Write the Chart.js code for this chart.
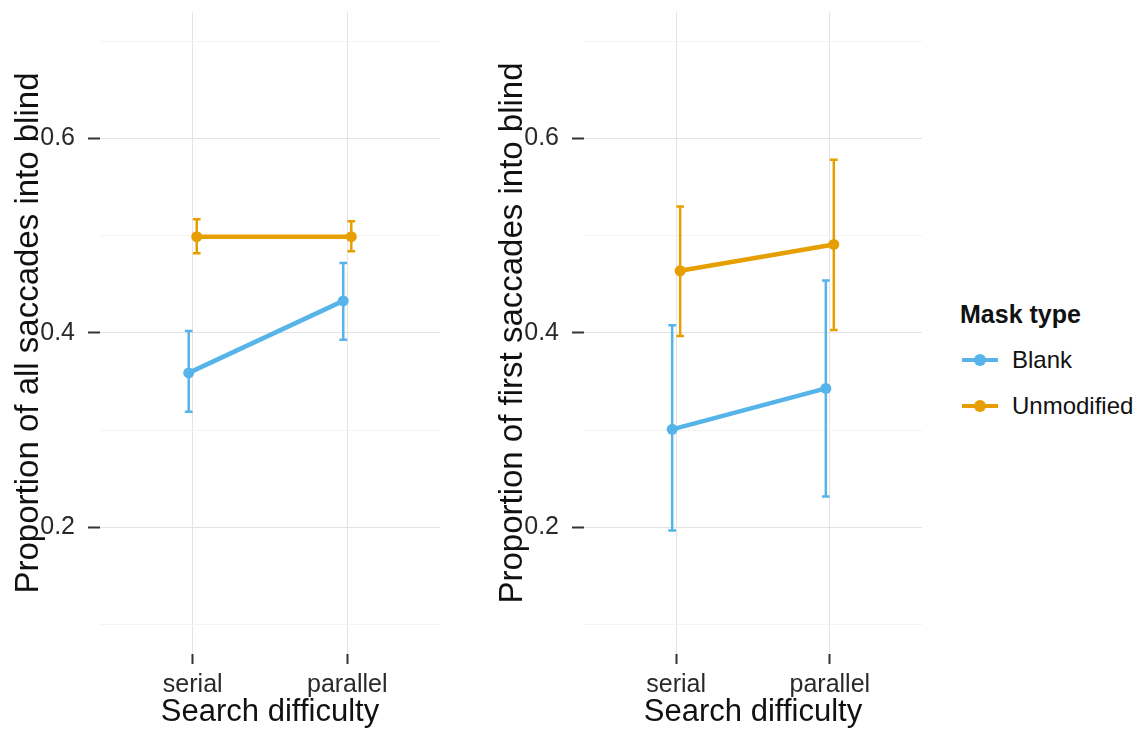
<!DOCTYPE html>
<html>
<head>
<meta charset="utf-8">
<script src="https://cdn.jsdelivr.net/npm/chart.js@4.4.1/dist/chart.umd.min.js"></script>
<style>
  body { margin: 0; background: #fff; }
  #wrap { position: relative; width: 1138px; height: 730px; overflow: hidden; font-family: "Liberation Sans", Arial, sans-serif; }
  canvas { position: absolute; top: 0; }
  #left { left: 0; }
  #right { left: 484px; }
  #legend { position: absolute; left: 960px; top: 300px; color: #111; }
  #legend .title { font-weight: bold; font-size: 25px; margin-bottom: 8px; }
  #legend .item { display: flex; align-items: center; height: 46px; font-size: 24px; }
  #legend .sym { position: relative; width: 40px; height: 20px; margin-right: 12px; }
  #legend .sym .ln { position: absolute; left: 2px; right: 2px; top: 8px; height: 4px; }
  #legend .sym .pt { position: absolute; left: 14px; top: 4px; width: 12px; height: 12px; border-radius: 50%; }
</style>
</head>
<body>
<div id="wrap">
  <canvas id="left" width="450" height="730"></canvas>
  <canvas id="right" width="448" height="730"></canvas>
  <div id="legend"></div>
</div>
<script>
// categories and series
const categories = ['serial', 'parallel'];
const seriesNames = ['Blank', 'Unmodified'];
const seriesColors = ['#56B4E9', '#E69F00'];

// left panel: all saccades
const allBlankMean = [0.359, 0.433];
const allBlankLow = [0.319, 0.393];
const allBlankHigh = [0.402, 0.472];
const allUnmodMean = [0.499, 0.499];
const allUnmodLow = [0.482, 0.484];
const allUnmodHigh = [0.517, 0.515];

// right panel: first saccades
const firstBlankMean = [0.301, 0.343];
const firstBlankLow = [0.197, 0.232];
const firstBlankHigh = [0.408, 0.454];
const firstUnmodMean = [0.464, 0.491];
const firstUnmodLow = [0.397, 0.403];
const firstUnmodHigh = [0.530, 0.578];

// y axis ticks (labelled ones + minor grid)
const yTicks = [0.1, 0.2, 0.3, 0.4, 0.5, 0.6, 0.7];
const yLabelled = [0.2, 0.4, 0.6];

const dodge = 0.026;
const capHalf = 0.025;
const majorGrid = '#e4e4e4';
const minorGrid = '#f3f3f3';
const tickDark = '#333333';

Chart.defaults.font.family = '"Liberation Sans", Arial, sans-serif';

function buildPoints(mean, low, high, offset) {
    return mean.map((m, i) => ({ x: i + 1 + offset, y: m, lo: low[i], hi: high[i] }));
}

const errorBars = {
    id: 'errorBars',
    beforeDatasetsDraw(chart) {
        const ctx = chart.ctx;
        const x = chart.scales.x;
        const y = chart.scales.y;
        ctx.save();
        chart.data.datasets.forEach(ds => {
            ctx.strokeStyle = ds.borderColor;
            ctx.lineWidth = 2.5;
            ds.data.forEach(p => {
                const px = x.getPixelForValue(p.x);
                const l = x.getPixelForValue(p.x - capHalf);
                const r = x.getPixelForValue(p.x + capHalf);
                const top = y.getPixelForValue(p.hi);
                const bot = y.getPixelForValue(p.lo);
                ctx.beginPath();
                ctx.moveTo(px, top); ctx.lineTo(px, bot);
                ctx.moveTo(l, top); ctx.lineTo(r, top);
                ctx.moveTo(l, bot); ctx.lineTo(r, bot);
                ctx.stroke();
            });
        });
        ctx.restore();
    }
};

function isMajor(v) {
    return yLabelled.some(t => Math.abs(t - v) < 1e-6);
}

function makeChart(id, yTitle, blank, unmod) {
    const ctx = document.getElementById(id).getContext('2d');
    return new Chart(ctx, {
        type: 'line',
        data: {
            datasets: [
                {
                    label: seriesNames[0],
                    data: blank,
                    borderColor: seriesColors[0],
                    backgroundColor: seriesColors[0],
                    borderWidth: 4.5,
                    pointRadius: 5.5,
                    pointBorderWidth: 0,
                    pointHoverRadius: 5.5
                },
                {
                    label: seriesNames[1],
                    data: unmod,
                    borderColor: seriesColors[1],
                    backgroundColor: seriesColors[1],
                    borderWidth: 4.5,
                    pointRadius: 5.5,
                    pointBorderWidth: 0,
                    pointHoverRadius: 5.5
                }
            ]
        },
        options: {
            responsive: false,
            animation: false,
            events: [],
            layout: { padding: { top: 12, right: 10, left: 0, bottom: 0 } },
            plugins: {
                legend: { display: false },
                tooltip: { enabled: false }
            },
            scales: {
                x: {
                    type: 'linear',
                    min: 0.4,
                    max: 2.6,
                    afterBuildTicks: scale => {
                        scale.ticks = categories.map((c, i) => ({ value: i + 1 }));
                    },
                    afterFit: scale => {
                        scale.height = 76;
                        scale.paddingLeft = 0;
                        scale.paddingRight = 0;
                    },
                    ticks: {
                        callback: v => categories[Math.round(v) - 1] || '',
                        font: { size: 25 },
                        color: '#2a2a2a',
                        padding: 6,
                        maxRotation: 0
                    },
                    grid: {
                        color: majorGrid,
                        tickColor: tickDark,
                        tickLength: 10,
                        tickWidth: 2,
                        lineWidth: 1
                    },
                    border: { display: false },
                    title: {
                        display: true,
                        text: 'Search difficulty',
                        font: { size: 31, lineHeight: 1.1 },
                        color: '#111',
                        padding: { top: 0, bottom: 0 }
                    }
                },
                y: {
                    min: 0.07,
                    max: 0.73,
                    afterBuildTicks: scale => {
                        scale.ticks = yTicks.map(v => ({ value: v }));
                    },
                    afterFit: scale => {
                        scale.width = 100;
                        scale.paddingTop = 0;
                        scale.paddingBottom = 0;
                    },
                    ticks: {
                        callback: v => isMajor(v) ? v.toFixed(1) : '',
                        font: { size: 25 },
                        color: '#2a2a2a',
                        padding: 13
                    },
                    grid: {
                        color: c => isMajor(c.tick.value) ? majorGrid : minorGrid,
                        tickColor: c => isMajor(c.tick.value) ? tickDark : 'rgba(0,0,0,0)',
                        tickLength: 12,
                        tickWidth: 2,
                        lineWidth: 1
                    },
                    border: { display: false },
                    title: {
                        display: true,
                        text: yTitle,
                        font: { size: 33 },
                        color: '#111',
                        padding: { top: 9, bottom: 0 }
                    }
                }
            }
        },
        plugins: [errorBars]
    });
}

makeChart('left', 'Proportion of all saccades into blind',
    buildPoints(allBlankMean, allBlankLow, allBlankHigh, -dodge),
    buildPoints(allUnmodMean, allUnmodLow, allUnmodHigh, dodge));

makeChart('right', 'Proportion of first saccades into blind',
    buildPoints(firstBlankMean, firstBlankLow, firstBlankHigh, -dodge),
    buildPoints(firstUnmodMean, firstUnmodLow, firstUnmodHigh, dodge));

// legend
const legend = document.getElementById('legend');
const lt = document.createElement('div');
lt.className = 'title';
lt.textContent = 'Mask type';
legend.appendChild(lt);
seriesNames.forEach((name, i) => {
    const item = document.createElement('div');
    item.className = 'item';
    const sym = document.createElement('div');
    sym.className = 'sym';
    const ln = document.createElement('div');
    ln.className = 'ln';
    ln.style.background = seriesColors[i];
    const pt = document.createElement('div');
    pt.className = 'pt';
    pt.style.background = seriesColors[i];
    sym.appendChild(ln);
    sym.appendChild(pt);
    const txt = document.createElement('span');
    txt.textContent = name;
    item.appendChild(sym);
    item.appendChild(txt);
    legend.appendChild(item);
});
</script>
</body>
</html>
